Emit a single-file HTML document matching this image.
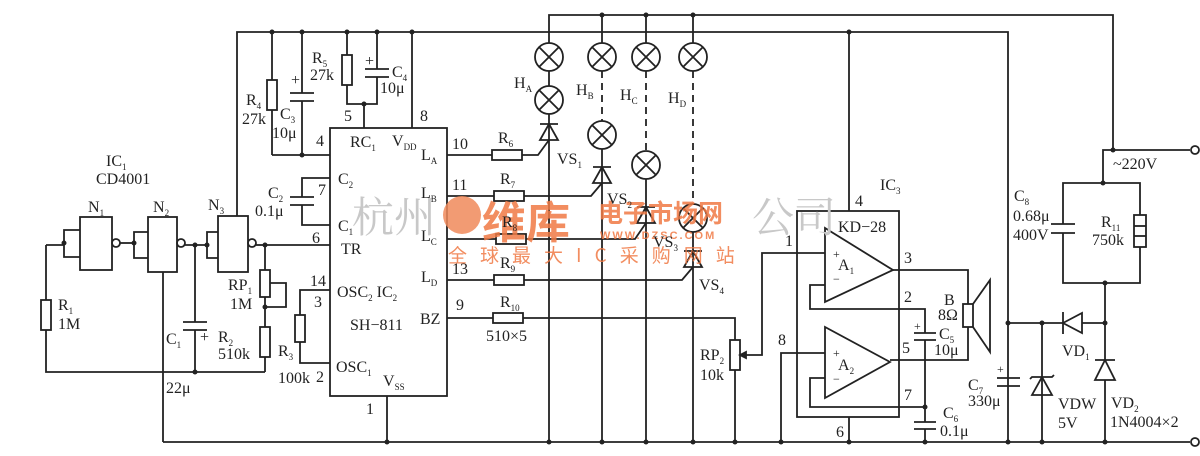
<!DOCTYPE html>
<html><head><meta charset="utf-8"><style>
html,body{margin:0;padding:0;background:#fff;}
svg{display:block;}
text{font-family:"Liberation Serif",serif;font-size:16px;fill:#222;}
.s{font-size:9px;}
</style></head><body>
<svg width="1200" height="456" viewBox="0 0 1200 456" xmlns="http://www.w3.org/2000/svg">
<g fill="none" stroke="#222" stroke-width="1.8">
<polyline points="237,216 237,32 1008,32 1008,442"/>
<polyline points="549,57 549,15 1113,15 1113,150"/>
<polyline points="1103,183 1103,150 1190,150"/>
<line x1="163" y1="442" x2="1190" y2="442"/>
<line x1="272" y1="32" x2="272" y2="155"/><rect x="267" y="80" width="10" height="30" fill="#fff"/>
<line x1="302" y1="32" x2="302" y2="93"/><line x1="290" y1="93" x2="314" y2="93"/><line x1="290" y1="101" x2="314" y2="101"/><line x1="302" y1="101" x2="302" y2="155"/>
<line x1="272" y1="155" x2="330" y2="155"/>
<polyline points="347,32 347,104 377,104 377,32"/><rect x="342" y="55" width="10" height="30" fill="#fff"/>
<rect x="364" y="69" width="26" height="8" fill="#fff" stroke="none"/><line x1="365" y1="69" x2="389" y2="69"/><line x1="365" y1="77" x2="389" y2="77"/>
<line x1="364" y1="104" x2="364" y2="128"/>
<line x1="412" y1="32" x2="412" y2="128"/>
<rect x="330" y="128" width="117" height="268"/>
<line x1="387" y1="396" x2="387" y2="442"/>
<polyline points="330,178 302,178 302,197"/><polyline points="330,225 302,225 302,205"/>
<line x1="290" y1="197" x2="314" y2="197"/><line x1="290" y1="205" x2="314" y2="205"/>
<line x1="265" y1="245" x2="330" y2="245"/>
<polyline points="330,290 300,290 300,363 330,363"/><rect x="295" y="315" width="10" height="27" fill="#fff"/>
<rect x="80" y="217" width="32" height="53"/><circle cx="116" cy="243" r="4"/>
<rect x="148" y="217" width="29" height="55"/><circle cx="181" cy="243" r="4"/>
<rect x="218" y="216" width="30" height="56"/><circle cx="252" cy="243" r="4"/>
<polyline points="80,230 64,230 64,257 80,257"/><line x1="46" y1="245" x2="64" y2="245"/>
<polyline points="148,232 134,232 134,258 148,258"/><line x1="120" y1="243" x2="134" y2="243"/>
<polyline points="218,232 207,232 207,258 218,258"/><line x1="185" y1="245" x2="207" y2="245"/>
<line x1="256" y1="245" x2="265" y2="245"/>
<polyline points="46,245 46,372 265,372"/><rect x="41" y="300" width="10" height="30" fill="#fff"/>
<line x1="163" y1="272" x2="163" y2="442"/>
<line x1="195" y1="245" x2="195" y2="322"/><line x1="183" y1="322" x2="207" y2="322"/><line x1="183" y1="330" x2="207" y2="330"/><line x1="195" y1="330" x2="195" y2="372"/>
<line x1="265" y1="245" x2="265" y2="372"/><rect x="260" y="270" width="10" height="27" fill="#fff"/><rect x="260" y="327" width="10" height="30" fill="#fff"/>
<polyline points="270,283 286,283 286,307 265,307"/>
<g fill="#fff">
<circle cx="549" cy="57" r="14"/><circle cx="549" cy="100" r="14"/>
<circle cx="602" cy="57" r="14"/><circle cx="602" cy="135" r="14"/>
<circle cx="646" cy="57" r="14"/><circle cx="646" cy="165" r="14"/>
<circle cx="693" cy="57" r="14"/><circle cx="693" cy="218" r="14"/>
</g>
<path d="M539,47l20,20M559,47l-20,20M539,90l20,20M559,90l-20,20M592,47l20,20M612,47l-20,20M592,125l20,20M612,125l-20,20M636,47l20,20M656,47l-20,20M636,155l20,20M656,155l-20,20M683,47l20,20M703,47l-20,20M683,208l20,20M703,208l-20,20"/>
<line x1="549" y1="71" x2="549" y2="86"/>
<line x1="602" y1="15" x2="602" y2="43"/><line x1="646" y1="15" x2="646" y2="43"/><line x1="693" y1="15" x2="693" y2="43"/>
<g stroke-dasharray="7,5"><line x1="602" y1="71" x2="602" y2="121"/><line x1="646" y1="71" x2="646" y2="151"/><line x1="693" y1="71" x2="693" y2="204"/></g>
<line x1="549" y1="114" x2="549" y2="442"/><line x1="540" y1="124" x2="558" y2="124"/><path d="M540,140L558,140L549,124Z"/><polyline points="492,155 538,155 549,140"/><rect x="492" y="150" width="30" height="10" fill="#fff"/>
<line x1="602" y1="149" x2="602" y2="442"/><line x1="593" y1="167" x2="611" y2="167"/><path d="M593,183L611,183L602,167Z"/><polyline points="447,196 591,196 602,183"/><rect x="494" y="191" width="30" height="10" fill="#fff"/>
<line x1="646" y1="179" x2="646" y2="442"/><line x1="637" y1="207" x2="655" y2="207"/><path d="M637,223L655,223L646,207Z"/><polyline points="447,239 635,239 646,223"/><rect x="496" y="234" width="30" height="10" fill="#fff"/>
<line x1="693" y1="232" x2="693" y2="442"/><line x1="684" y1="251" x2="702" y2="251"/><path d="M684,267L702,267L693,251Z"/><polyline points="447,280 682,280 693,267"/><rect x="494" y="275" width="30" height="10" fill="#fff"/>
<line x1="447" y1="155" x2="492" y2="155"/>
<polyline points="447,318 735,318 735,442"/><rect x="493" y="313" width="30" height="10" fill="#fff"/><rect x="730" y="340" width="10" height="30" fill="#fff"/>
<polyline points="740,355 762,355 762,253 825,253"/><path d="M740,355l6,-3v6z" fill="#222"/>
<polyline points="781,442 781,353 825,353"/>
<rect x="797" y="211" width="102" height="206"/>
<line x1="849" y1="32" x2="849" y2="211"/><line x1="849" y1="417" x2="849" y2="442"/>
<path d="M825,228L825,302L893,270Z" fill="#fff"/><path d="M825,327L825,398L890,362Z" fill="#fff"/>
<polyline points="825,285 810,285 810,309 925,309 925,333"/>
<line x1="914" y1="333" x2="936" y2="333"/><line x1="914" y1="340" x2="936" y2="340"/><line x1="925" y1="340" x2="925" y2="422"/>
<polyline points="893,270 968,270 968,304"/><polyline points="890,360 968,360 968,327"/>
<rect x="963" y="304" width="10" height="23" fill="#fff"/><polyline points="973,304 990,280 990,352 973,327"/>
<polyline points="825,378 810,378 810,407 925,407"/>
<line x1="914" y1="422" x2="936" y2="422"/><line x1="914" y1="429" x2="936" y2="429"/><line x1="925" y1="429" x2="925" y2="442"/>
<line x1="997" y1="378" x2="1020" y2="378"/><line x1="997" y1="386" x2="1020" y2="386"/>
<line x1="1008" y1="323" x2="1105" y2="323"/>
<line x1="1042" y1="323" x2="1042" y2="442"/><path d="M1032,395L1052,395L1042,377Z"/><polyline points="1030,379 1032,377 1052,377 1054,375"/>
<path d="M1063,323L1082,313L1082,333Z" fill="#fff"/><line x1="1063" y1="312" x2="1063" y2="334"/>
<line x1="1105" y1="283" x2="1105" y2="442"/><path d="M1095,380L1115,380L1105,360Z" fill="#fff"/><line x1="1095" y1="360" x2="1115" y2="360"/>
<polyline points="1063,224 1063,183 1140,183 1140,283 1063,283 1063,233"/>
<line x1="1051" y1="224" x2="1075" y2="224"/><line x1="1051" y1="233" x2="1075" y2="233"/>
<rect x="1134" y="215" width="12" height="32" fill="#fff"/><line x1="1134" y1="226" x2="1146" y2="226"/><line x1="1134" y1="236" x2="1146" y2="236"/>
<circle cx="1195" cy="150" r="4" fill="#fff"/><circle cx="1195" cy="442" r="4" fill="#fff"/>
</g>
<g fill="#222">
<circle cx="272" cy="32" r="2.5"/><circle cx="302" cy="32" r="2.5"/><circle cx="347" cy="32" r="2.5"/><circle cx="377" cy="32" r="2.5"/><circle cx="412" cy="32" r="2.5"/><circle cx="849" cy="32" r="2.5"/>
<circle cx="302" cy="155" r="2.5"/><circle cx="364" cy="104" r="2.5"/><circle cx="64" cy="243" r="2.5"/><circle cx="134" cy="243" r="2.5"/><circle cx="195" cy="245" r="2.5"/><circle cx="207" cy="245" r="2.5"/><circle cx="265" cy="245" r="2.5"/><circle cx="265" cy="307" r="2.5"/>
<circle cx="195" cy="372" r="2.5"/><circle cx="387" cy="442" r="2.5"/>
<circle cx="602" cy="15" r="2.5"/><circle cx="646" cy="15" r="2.5"/><circle cx="693" cy="15" r="2.5"/>
<circle cx="549" cy="442" r="2.5"/><circle cx="602" cy="442" r="2.5"/><circle cx="646" cy="442" r="2.5"/><circle cx="693" cy="442" r="2.5"/><circle cx="735" cy="442" r="2.5"/><circle cx="781" cy="442" r="2.5"/><circle cx="849" cy="442" r="2.5"/><circle cx="925" cy="442" r="2.5"/><circle cx="925" cy="407" r="2.5"/><circle cx="1008" cy="442" r="2.5"/><circle cx="1042" cy="442" r="2.5"/><circle cx="1105" cy="442" r="2.5"/>
<circle cx="1008" cy="323" r="2.5"/><circle cx="1042" cy="323" r="2.5"/><circle cx="1105" cy="323" r="2.5"/><circle cx="1105" cy="283" r="2.5"/><circle cx="1103" cy="183" r="2.5"/><circle cx="1113" cy="150" r="2.5"/>
</g>
<g>
<text x="352" y="232" style="font-size:42px;fill:#c8c8c8;font-family:'Noto Serif CJK SC',serif">杭州</text>
<text x="752" y="232" style="font-size:42px;fill:#c8c8c8;font-family:'Noto Serif CJK SC',serif">公司</text>
<circle cx="462" cy="215" r="19" fill="#f08a5a" opacity="0.85"/>
<text x="482" y="238" style="font-size:44px;font-weight:bold;fill:#f07a45;opacity:0.85;font-family:'Noto Sans CJK SC',sans-serif">维库</text>
<text x="598" y="222" style="font-size:25px;font-weight:bold;fill:#f07a45;opacity:0.85;font-family:'Noto Sans CJK SC',sans-serif">电子市场网</text>
<text x="600" y="239" style="font-size:11px;font-weight:bold;fill:#f07a45;opacity:0.85;font-family:'Liberation Sans',sans-serif;letter-spacing:2px">WWW.DZSC.COM</text>
<text x="448" y="262" style="font-size:19px;fill:#f07a45;opacity:0.85;letter-spacing:13px;font-family:'Noto Sans CJK SC',sans-serif">全球最大IC采购网站</text>
</g>
<text x="106" y="166">IC<tspan class="s" dy="4">1</tspan></text>
<text x="96" y="184">CD4001</text>
<text x="88" y="212">N<tspan class="s" dy="4">1</tspan></text>
<text x="153" y="212">N<tspan class="s" dy="4">2</tspan></text>
<text x="208" y="210">N<tspan class="s" dy="4">3</tspan></text>
<text x="58" y="310">R<tspan class="s" dy="4">1</tspan></text><text x="58" y="329">1M</text>
<text x="166" y="344">C<tspan class="s" dy="4">1</tspan></text><text x="200" y="342">+</text>
<text x="166" y="393">22μ</text>
<text x="218" y="342">R<tspan class="s" dy="4">2</tspan></text><text x="218" y="359">510k</text>
<text x="228" y="290">RP<tspan class="s" dy="4">1</tspan></text><text x="230" y="309">1M</text>
<text x="278" y="356">R<tspan class="s" dy="4">3</tspan></text><text x="278" y="383">100k</text>
<text x="246" y="105">R<tspan class="s" dy="4">4</tspan></text><text x="242" y="124">27k</text>
<text x="291" y="85">+</text><text x="280" y="119">C<tspan class="s" dy="4">3</tspan></text><text x="272" y="138">10μ</text>
<text x="312" y="63">R<tspan class="s" dy="4">5</tspan></text><text x="310" y="80">27k</text>
<text x="365" y="66">+</text><text x="392" y="77">C<tspan class="s" dy="4">4</tspan></text><text x="380" y="93">10μ</text>
<text x="344" y="121">5</text><text x="420" y="121">8</text><text x="316" y="146">4</text>
<text x="268" y="198">C<tspan class="s" dy="4">2</tspan></text><text x="255" y="216">0.1μ</text>
<text x="318" y="195">7</text><text x="312" y="243">6</text><text x="310" y="286">14</text><text x="314" y="307">3</text><text x="316" y="382">2</text><text x="366" y="414">1</text>
<text x="350" y="147">RC<tspan class="s" dy="4">1</tspan></text>
<text x="392" y="146">V<tspan class="s" dy="4">DD</tspan></text><text x="421" y="160">L<tspan class="s" dy="4">A</tspan></text>
<text x="338" y="184">C<tspan class="s" dy="4">2</tspan></text>
<text x="338" y="231">C<tspan class="s" dy="4">1</tspan></text>
<text x="341" y="254">TR</text>
<text x="337" y="297">OSC<tspan class="s" dy="4">2</tspan><tspan dy="-4"> IC</tspan><tspan class="s" dy="4">2</tspan></text>
<text x="350" y="330">SH−811</text>
<text x="336" y="372">OSC<tspan class="s" dy="4">1</tspan></text><text x="383" y="386">V<tspan class="s" dy="4">SS</tspan></text>
<text x="421" y="198">L<tspan class="s" dy="4">B</tspan></text><text x="421" y="241">L<tspan class="s" dy="4">C</tspan></text><text x="421" y="282">L<tspan class="s" dy="4">D</tspan></text><text x="420" y="324">BZ</text>
<text x="452" y="149">10</text><text x="452" y="190">11</text><text x="452" y="274">13</text><text x="456" y="310">9</text>
<text x="498" y="143">R<tspan class="s" dy="4">6</tspan></text><text x="500" y="184">R<tspan class="s" dy="4">7</tspan></text><text x="502" y="227">R<tspan class="s" dy="4">8</tspan></text><text x="500" y="268">R<tspan class="s" dy="4">9</tspan></text><text x="500" y="307">R<tspan class="s" dy="4">10</tspan></text>
<text x="486" y="341">510×5</text>
<text x="514" y="88">H<tspan class="s" dy="4">A</tspan></text><text x="576" y="95">H<tspan class="s" dy="4">B</tspan></text><text x="620" y="100">H<tspan class="s" dy="4">C</tspan></text><text x="668" y="103">H<tspan class="s" dy="4">D</tspan></text>
<text x="557" y="164">VS<tspan class="s" dy="4">1</tspan></text><text x="607" y="204">VS<tspan class="s" dy="4">2</tspan></text><text x="653" y="247">VS<tspan class="s" dy="4">3</tspan></text><text x="699" y="290">VS<tspan class="s" dy="4">4</tspan></text>
<text x="700" y="360">RP<tspan class="s" dy="4">2</tspan></text><text x="700" y="380">10k</text>
<text x="785" y="246">1</text><text x="778" y="345">8</text>
<text x="880" y="190">IC<tspan class="s" dy="4">3</tspan></text><text x="855" y="206">4</text>
<text x="838" y="232">KD−28</text>
<text x="833" y="258" style="font-size:12px">+</text><text x="838" y="270">A<tspan class="s" dy="4">1</tspan></text><text x="833" y="283" style="font-size:12px">−</text>
<text x="833" y="357" style="font-size:12px">+</text><text x="838" y="370">A<tspan class="s" dy="4">2</tspan></text><text x="833" y="383" style="font-size:12px">−</text>
<text x="904" y="263">3</text><text x="904" y="302">2</text><text x="902" y="353">5</text><text x="904" y="400">7</text><text x="836" y="437">6</text>
<text x="914" y="330" style="font-size:12px">+</text><text x="939" y="339">C<tspan class="s" dy="4">5</tspan></text><text x="934" y="355">10μ</text>
<text x="944" y="305">B</text><text x="938" y="320">8Ω</text>
<text x="943" y="418">C<tspan class="s" dy="4">6</tspan></text><text x="940" y="436">0.1μ</text>
<text x="997" y="373" style="font-size:12px">+</text><text x="968" y="390">C<tspan class="s" dy="4">7</tspan></text><text x="968" y="406">330μ</text>
<text x="1058" y="409">VDW</text><text x="1058" y="428">5V</text>
<text x="1062" y="356">VD<tspan class="s" dy="4">1</tspan></text>
<text x="1111" y="408">VD<tspan class="s" dy="4">2</tspan></text><text x="1110" y="427">1N4004×2</text>
<text x="1014" y="201">C<tspan class="s" dy="4">8</tspan></text><text x="1013" y="221">0.68μ</text><text x="1013" y="240">400V</text>
<text x="1101" y="227">R<tspan class="s" dy="4">11</tspan></text><text x="1092" y="245">750k</text>
<text x="1113" y="169">~220V</text>
</svg>
</body></html>
